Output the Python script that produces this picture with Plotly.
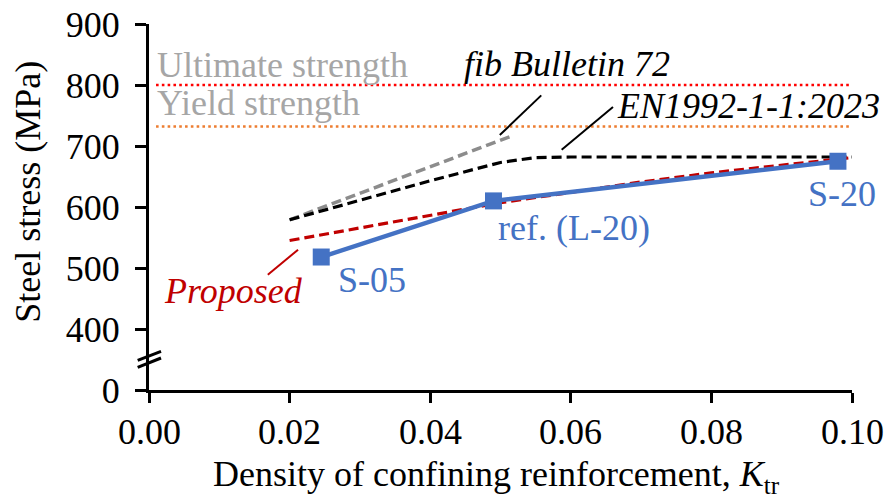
import plotly.graph_objects as go

# Measured steel stresses at the test specimens
k_tr_tests = [0.0245, 0.049, 0.098]
stress_tests = [518, 610, 675]
test_labels = ["S-05", "ref. (L-20)", "S-20"]

# Proposed model
proposed_k = [0.02, 0.03, 0.04, 0.05, 0.06, 0.07, 0.08, 0.09, 0.10]
proposed_stress = [545, 566, 587, 607, 624, 641, 656, 669, 681]

# EN1992-1-1:2023
en_k = [0.02, 0.03, 0.04, 0.05, 0.055, 0.06, 0.10]
en_stress = [579, 611, 643, 673, 681, 682, 682]

# fib Bulletin 72
fib_k = [0.02, 0.0515]
fib_stress = [579, 716]

# Material strengths
ultimate_strength = 800
yield_strength = 732
strength_k = [0.001, 0.1]

# Broken y axis: the value 0 is drawn one step below 400
y_tickvals = [300, 400, 500, 600, 700, 800, 900]
y_ticktext = ["0", "400", "500", "600", "700", "800", "900"]
x_tickvals = [0.0, 0.02, 0.04, 0.06, 0.08, 0.10]
x_ticktext = ["0.00", "0.02", "0.04", "0.06", "0.08", "0.10"]

FONT = "'Liberation Serif', 'Times New Roman', Times, serif"
BLUE = "#4472C4"
DARK_RED = "#C00000"

fig = go.Figure()

fig.add_trace(go.Scatter(x=strength_k, y=[ultimate_strength] * 2, mode="lines",
                         line=dict(color="#FF0000", width=2.6, dash="2.6px,3.2px"),
                         hoverinfo="skip"))
fig.add_trace(go.Scatter(x=strength_k, y=[yield_strength] * 2, mode="lines",
                         line=dict(color="#ED7D31", width=2.6, dash="2.6px,3.2px"),
                         hoverinfo="skip"))
fig.add_trace(go.Scatter(x=fib_k, y=fib_stress, mode="lines",
                         line=dict(color="#8C8C8C", width=3.5, dash="10px,5px")))
fig.add_trace(go.Scatter(x=en_k, y=en_stress, mode="lines",
                         line=dict(color="black", width=3.2, dash="10px,5px")))
fig.add_trace(go.Scatter(x=proposed_k, y=proposed_stress, mode="lines",
                         line=dict(color=DARK_RED, width=3.2, dash="10px,5px")))
fig.add_trace(go.Scatter(x=k_tr_tests, y=stress_tests, mode="lines+markers",
                         line=dict(color=BLUE, width=4.5),
                         marker=dict(symbol="square", size=17, color=BLUE)))

label_font = dict(family=FONT, size=36, color="black")

annotations = [
    dict(x=0.0008, y=832, text="Ultimate strength", color="#A6A6A6"),
    dict(x=0.0008, y=771, text="Yield strength", color="#A6A6A6"),
    dict(x=0.0445, y=834, text="<i>fib Bulletin 72</i>", color="black"),
    dict(x=0.0663, y=766, text="<i>EN1992-1-1:2023</i>", color="black"),
    dict(x=0.0493, y=566, text=test_labels[1], color=BLUE),
    dict(x=0.0934, y=621, text=test_labels[2], color=BLUE),
    dict(x=0.0266, y=481, text=test_labels[0], color=BLUE),
    dict(x=0.0018, y=463, text="<i>Proposed</i>", color=DARK_RED),
]
for a in annotations:
    fig.add_annotation(x=a["x"], y=a["y"], xref="x", yref="y", text=a["text"],
                       showarrow=False, xanchor="left", yanchor="middle",
                       font=dict(family=FONT, size=36, color=a["color"]))

# X tick labels, set slightly closer to the axis than the default placement
for xv, xt in zip(x_tickvals, x_ticktext):
    fig.add_annotation(x=xv, y=-0.114, xref="x", yref="paper", text=xt,
                       showarrow=False, xanchor="center", yanchor="middle",
                       font=label_font)

# Axis titles
fig.add_annotation(x=-0.172, y=0.542, xref="paper", yref="paper",
                   text="Steel stress (MPa)", textangle=-90, showarrow=False,
                   xanchor="center", yanchor="middle",
                   font=dict(family=FONT, size=36, color="black"))
fig.add_annotation(x=0.494, y=-0.237, xref="paper", yref="paper",
                   text="Density of confining reinforcement, <i>K</i><sub>tr</sub>",
                   showarrow=False, xanchor="center", yanchor="middle",
                   font=dict(family=FONT, size=36, color="black"))

# Leader lines from the labels to their curves
fig.add_shape(type="line", xref="x", yref="y", x0=0.0558, y0=783, x1=0.0499, y1=718,
              line=dict(color="black", width=2))
fig.add_shape(type="line", xref="x", yref="y", x0=0.0660, y0=764, x1=0.0587, y1=694,
              line=dict(color="black", width=2))
fig.add_shape(type="line", xref="x", yref="y", x0=0.0212, y0=530, x1=0.0169, y1=489,
              line=dict(color=DARK_RED, width=2))

# Axis break marks
for y0, y1 in [(0.0809, 0.1055), (0.0617, 0.0874)]:
    fig.add_shape(type="line", xref="paper", yref="paper", x0=-0.0161, y0=y0,
                  x1=0.0171, y1=y1, line=dict(color="black", width=3))

fig.update_layout(
    width=887, height=496,
    margin=dict(l=149, r=35, t=24, b=106),
    paper_bgcolor="white", plot_bgcolor="white",
    showlegend=False,
    font=dict(family=FONT, size=36, color="black"),
)
fig.update_xaxes(range=[0, 0.1], tickvals=x_tickvals, showticklabels=False,
                 automargin=False,
                 showgrid=False, zeroline=False, showline=True, linecolor="black",
                 linewidth=3, ticks="outside", ticklen=10, tickwidth=3,
                 tickcolor="black")
fig.update_yaxes(range=[300, 900], tickvals=y_tickvals, ticktext=y_ticktext,
                 automargin=False,
                 showgrid=False, zeroline=False, showline=True, linecolor="black",
                 linewidth=3, ticks="outside", ticklen=11, tickwidth=3,
                 tickcolor="black", tickfont=label_font, ticklabelstandoff=8)

fig.write_html("out.html")
